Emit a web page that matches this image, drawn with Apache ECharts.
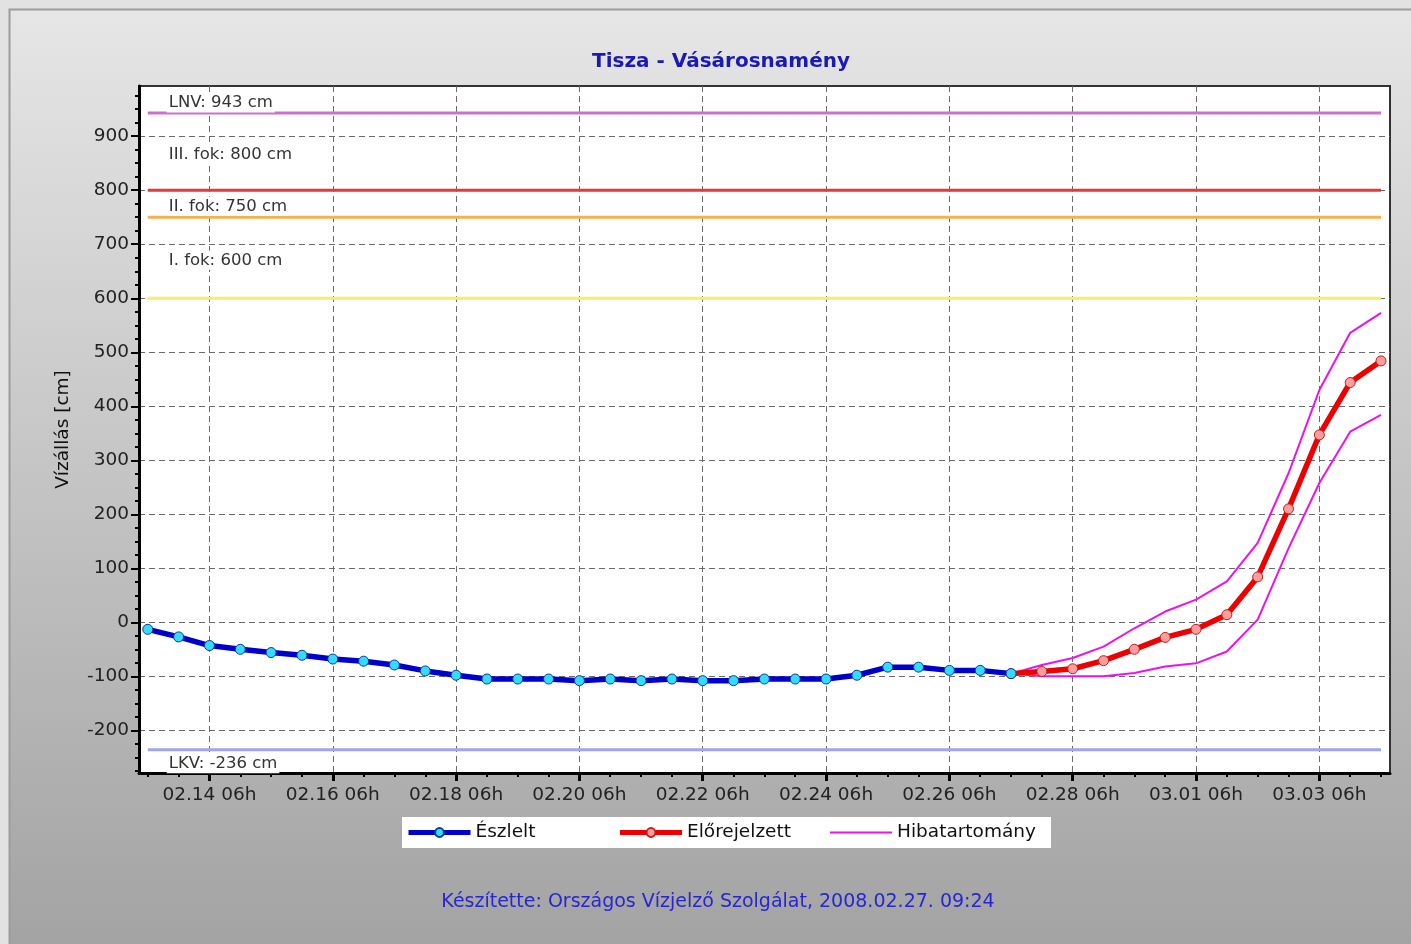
<!DOCTYPE html>
<html>
<head>
<meta charset="UTF-8">
<title>Tisza - Vásárosnamény</title>
<script src="https://cdn.jsdelivr.net/npm/echarts@6/dist/echarts.min.js"></script>
<style>
  html, body { margin: 0; padding: 0; background: #e2e2e2; }
  #main { width: 1411px; height: 944px; }
</style>
</head>
<body>
<div id="main"></div>
<script type="text/javascript">
// észlelt vízállás, 12 óránként (hónap.nap óra)
var obsTimes = ['02.13 06','02.13 18','02.14 06','02.14 18','02.15 06','02.15 18','02.16 06','02.16 18',
  '02.17 06','02.17 18','02.18 06','02.18 18','02.19 06','02.19 18','02.20 06','02.20 18','02.21 06',
  '02.21 18','02.22 06','02.22 18','02.23 06','02.23 18','02.24 06','02.24 18','02.25 06','02.25 18',
  '02.26 06','02.26 18','02.27 06'];
var obsValues = [-13,-27,-43,-50,-56,-61,-68,-72,-79,-90,-98,-105,-105,-105,-108,-105,-108,-105,-108,
  -108,-105,-105,-105,-98,-83,-83,-89,-89,-95];

// előrejelzés + hibatartomány
var fcTimes = ['02.27 06','02.27 18','02.28 06','02.28 18','02.29 06','02.29 18','03.01 06','03.01 18',
  '03.02 06','03.02 18','03.03 06','03.03 18','03.04 06'];
var fcValues = [-95,-91,-86,-71,-50,-28,-13,14,84,210,347,444,484];
var upperValues = [-95,-79,-66,-45,-11,20,42,76,147,276,430,536,573];
var lowerValues = [-95,-100,-100,-100,-94,-82,-76,-54,5,137,258,353,384];

// küszöbszintek
var levelNames = ['LNV: 943 cm','III. fok: 800 cm','II. fok: 750 cm','I. fok: 600 cm','LKV: -236 cm'];
var levelValues = [943, 800, 750, 600, -236];
var levelColors = ['#cc70d0','#e23a3a','#f2b24e','#f4ee6a','#a0a4f0'];
var levelLabelDy = [-10, -36, -11, -38, 14];

// tengely feliratok
var xLabelTimes = ['02.14 06','02.16 06','02.18 06','02.20 06','02.22 06','02.24 06','02.26 06',
  '02.28 06','03.01 06','03.03 06'];
var yLabelValues = [-200,-100,0,100,200,300,400,500,600,700,800,900];

function toMs(s) {
  var p = s.split(/[. :]/);
  return Date.UTC(2008, +p[0] - 1, +p[1], +p[2], p[3] ? +p[3] : 0);
}
function pad(n) { return (n < 10 ? '0' : '') + n; }
function fmt(v) {
  var d = new Date(v);
  return pad(d.getUTCMonth() + 1) + '.' + pad(d.getUTCDate()) + ' ' + pad(d.getUTCHours()) + 'h';
}
function pairs(times, vals) {
  return times.map(function (t, i) { return [toMs(t), vals[i]]; });
}

var xMin = toMs('02.13 02:35'), xMax = toMs('03.04 09:30');
var yMin = -279, yMax = 993;

var minorX = [];
for (var t = toMs('02.13 06'); t <= toMs('03.04 06'); t += 12 * 3600 * 1000) minorX.push(t);
var minorY = [];
for (var y = -275; y <= 975; y += 25) minorY.push(y);

var font = 'DejaVu Sans, Verdana, sans-serif';
var myChart = echarts.init(document.getElementById('main'));

var series = [];
levelValues.forEach(function (v, i) {
  series.push({
    name: levelNames[i],
    type: 'line',
    silent: true,
    symbol: 'circle',
    symbolSize: 0,
    showSymbol: true,
    z: 1,
    itemStyle: { color: 'rgba(0,0,0,0)', borderWidth: 0 },
    lineStyle: { color: levelColors[i], width: 3 },
    data: [
      {
        value: [toMs(obsTimes[0]), v],
        label: {
          show: true, position: 'right', offset: [14, levelLabelDy[i]],
          formatter: levelNames[i], color: '#333', fontSize: 16.5, fontFamily: font,
          backgroundColor: '#fff', padding: [1, 2]
        }
      },
      [toMs(fcTimes[fcTimes.length - 1]), v]
    ]
  });
});

series.push({
  name: 'Hibatartomány', type: 'line', symbol: 'none', z: 3,
  itemStyle: { color: '#ee10ee' },
  lineStyle: { color: '#ee10ee', width: 2 },
  data: pairs(fcTimes, upperValues)
}, {
  name: 'Hibatartomány', type: 'line', symbol: 'none', z: 3,
  itemStyle: { color: '#ee10ee' },
  lineStyle: { color: '#ee10ee', width: 2 },
  data: pairs(fcTimes, lowerValues)
}, {
  name: 'Előrejelzett', type: 'line', symbol: 'circle', symbolSize: 10, z: 4,
  itemStyle: { color: '#ff9c9c', borderColor: '#c02020', borderWidth: 1 },
  lineStyle: { color: '#ee0000', width: 5.5 },
  data: pairs(fcTimes, fcValues)
}, {
  name: 'Észlelt', type: 'line', symbol: 'circle', symbolSize: 10, z: 5,
  itemStyle: { color: '#33dcff', borderColor: '#103a90', borderWidth: 1 },
  lineStyle: { color: '#0000cc', width: 5.5 },
  data: pairs(obsTimes, obsValues)
});

myChart.setOption({
  animation: false,
  graphic: [
    {
      type: 'rect', z: -10, silent: true,
      shape: { x: 9.5, y: 9.5, width: 1420, height: 950 },
      style: {
        fill: new echarts.graphic.LinearGradient(0, 0, 0, 1, [
          { offset: 0, color: '#e6e6e6' },
          { offset: 1, color: '#a2a2a2' }
        ]),
        stroke: '#9c9c9c', lineWidth: 2
      }
    },
    {
      type: 'text', x: 718, y: 902, z: 10, silent: true,
      style: {
        text: 'Készítette: Országos Vízjelző Szolgálat, 2008.02.27. 09:24',
        fill: '#2626d4', font: '19px ' + font, textAlign: 'center', textVerticalAlign: 'middle'
      }
    }
  ],
  title: {
    text: 'Tisza - Vásárosnamény',
    left: 716, top: 47, textAlign: 'center',
    textStyle: { color: '#1a1ab4', fontSize: 20, fontWeight: 'bold', fontFamily: font }
  },
  legend: {
    data: [
      { name: 'Észlelt', lineStyle: { width: 5 } },
      { name: 'Előrejelzett', lineStyle: { width: 5 } },
      { name: 'Hibatartomány', lineStyle: { width: 2, color: '#ee10ee' }, itemStyle: { color: 'rgba(0,0,0,0)', borderWidth: 0 } }
    ],
    left: 402, top: 817,
    backgroundColor: '#fff',
    padding: [6, 12, 6, 4],
    itemWidth: 62, itemHeight: 11, itemGap: 0,
    formatter: '{a|{name}}',
    textStyle: {
      fontSize: 18.5, color: '#111', fontFamily: font,
      rich: { a: { width: 142, fontSize: 18.5, fontFamily: font, color: '#111', lineHeight: 22 } }
    }
  },
  grid: {
    left: 139, right: 21, top: 86, bottom: 171,
    show: true, backgroundColor: '#fff', borderColor: '#333', borderWidth: 2
  },
  xAxis: [
    {
      type: 'value', min: xMin, max: xMax,
      axisLine: { show: true, onZero: false, lineStyle: { color: '#000', width: 3 } },
      axisTick: { show: true, length: 4, customValues: minorX, lineStyle: { color: '#000', width: 2 } },
      axisLabel: { customValues: xLabelTimes.map(toMs), formatter: fmt, color: '#222', fontSize: 18.5, fontFamily: font, margin: 13 },
      splitLine: { show: false }
    },
    {
      type: 'value', min: xMin, max: xMax, position: 'bottom',
      axisLine: { show: false, onZero: false },
      axisTick: { show: true, length: 8, customValues: xLabelTimes.map(toMs), lineStyle: { color: '#000', width: 3 } },
      axisLabel: { show: false },
      splitLine: { show: true, lineStyle: { color: '#6a6a6a', type: [6, 4], width: 1 } }
    }
  ],
  yAxis: [
    {
      type: 'value', min: yMin, max: yMax,
      name: 'Vízállás [cm]', nameLocation: 'middle', nameGap: 66,
      nameTextStyle: { fontSize: 18.5, color: '#111', fontFamily: font },
      axisLine: { show: true, onZero: false, lineStyle: { color: '#000', width: 3 } },
      axisTick: { show: true, length: 4, customValues: minorY, lineStyle: { color: '#000', width: 2 } },
      axisLabel: { customValues: yLabelValues, color: '#222', fontSize: 18.5, fontFamily: font, margin: 10 },
      splitLine: { show: false }
    },
    {
      type: 'value', min: yMin, max: yMax, position: 'left',
      axisLine: { show: false, onZero: false },
      axisTick: { show: true, length: 8, customValues: yLabelValues, lineStyle: { color: '#000', width: 2 } },
      axisLabel: { show: false },
      splitLine: { show: true, lineStyle: { color: '#6a6a6a', type: [6, 4], width: 1 } }
    }
  ],
  series: series
});
</script>
</body>
</html>
